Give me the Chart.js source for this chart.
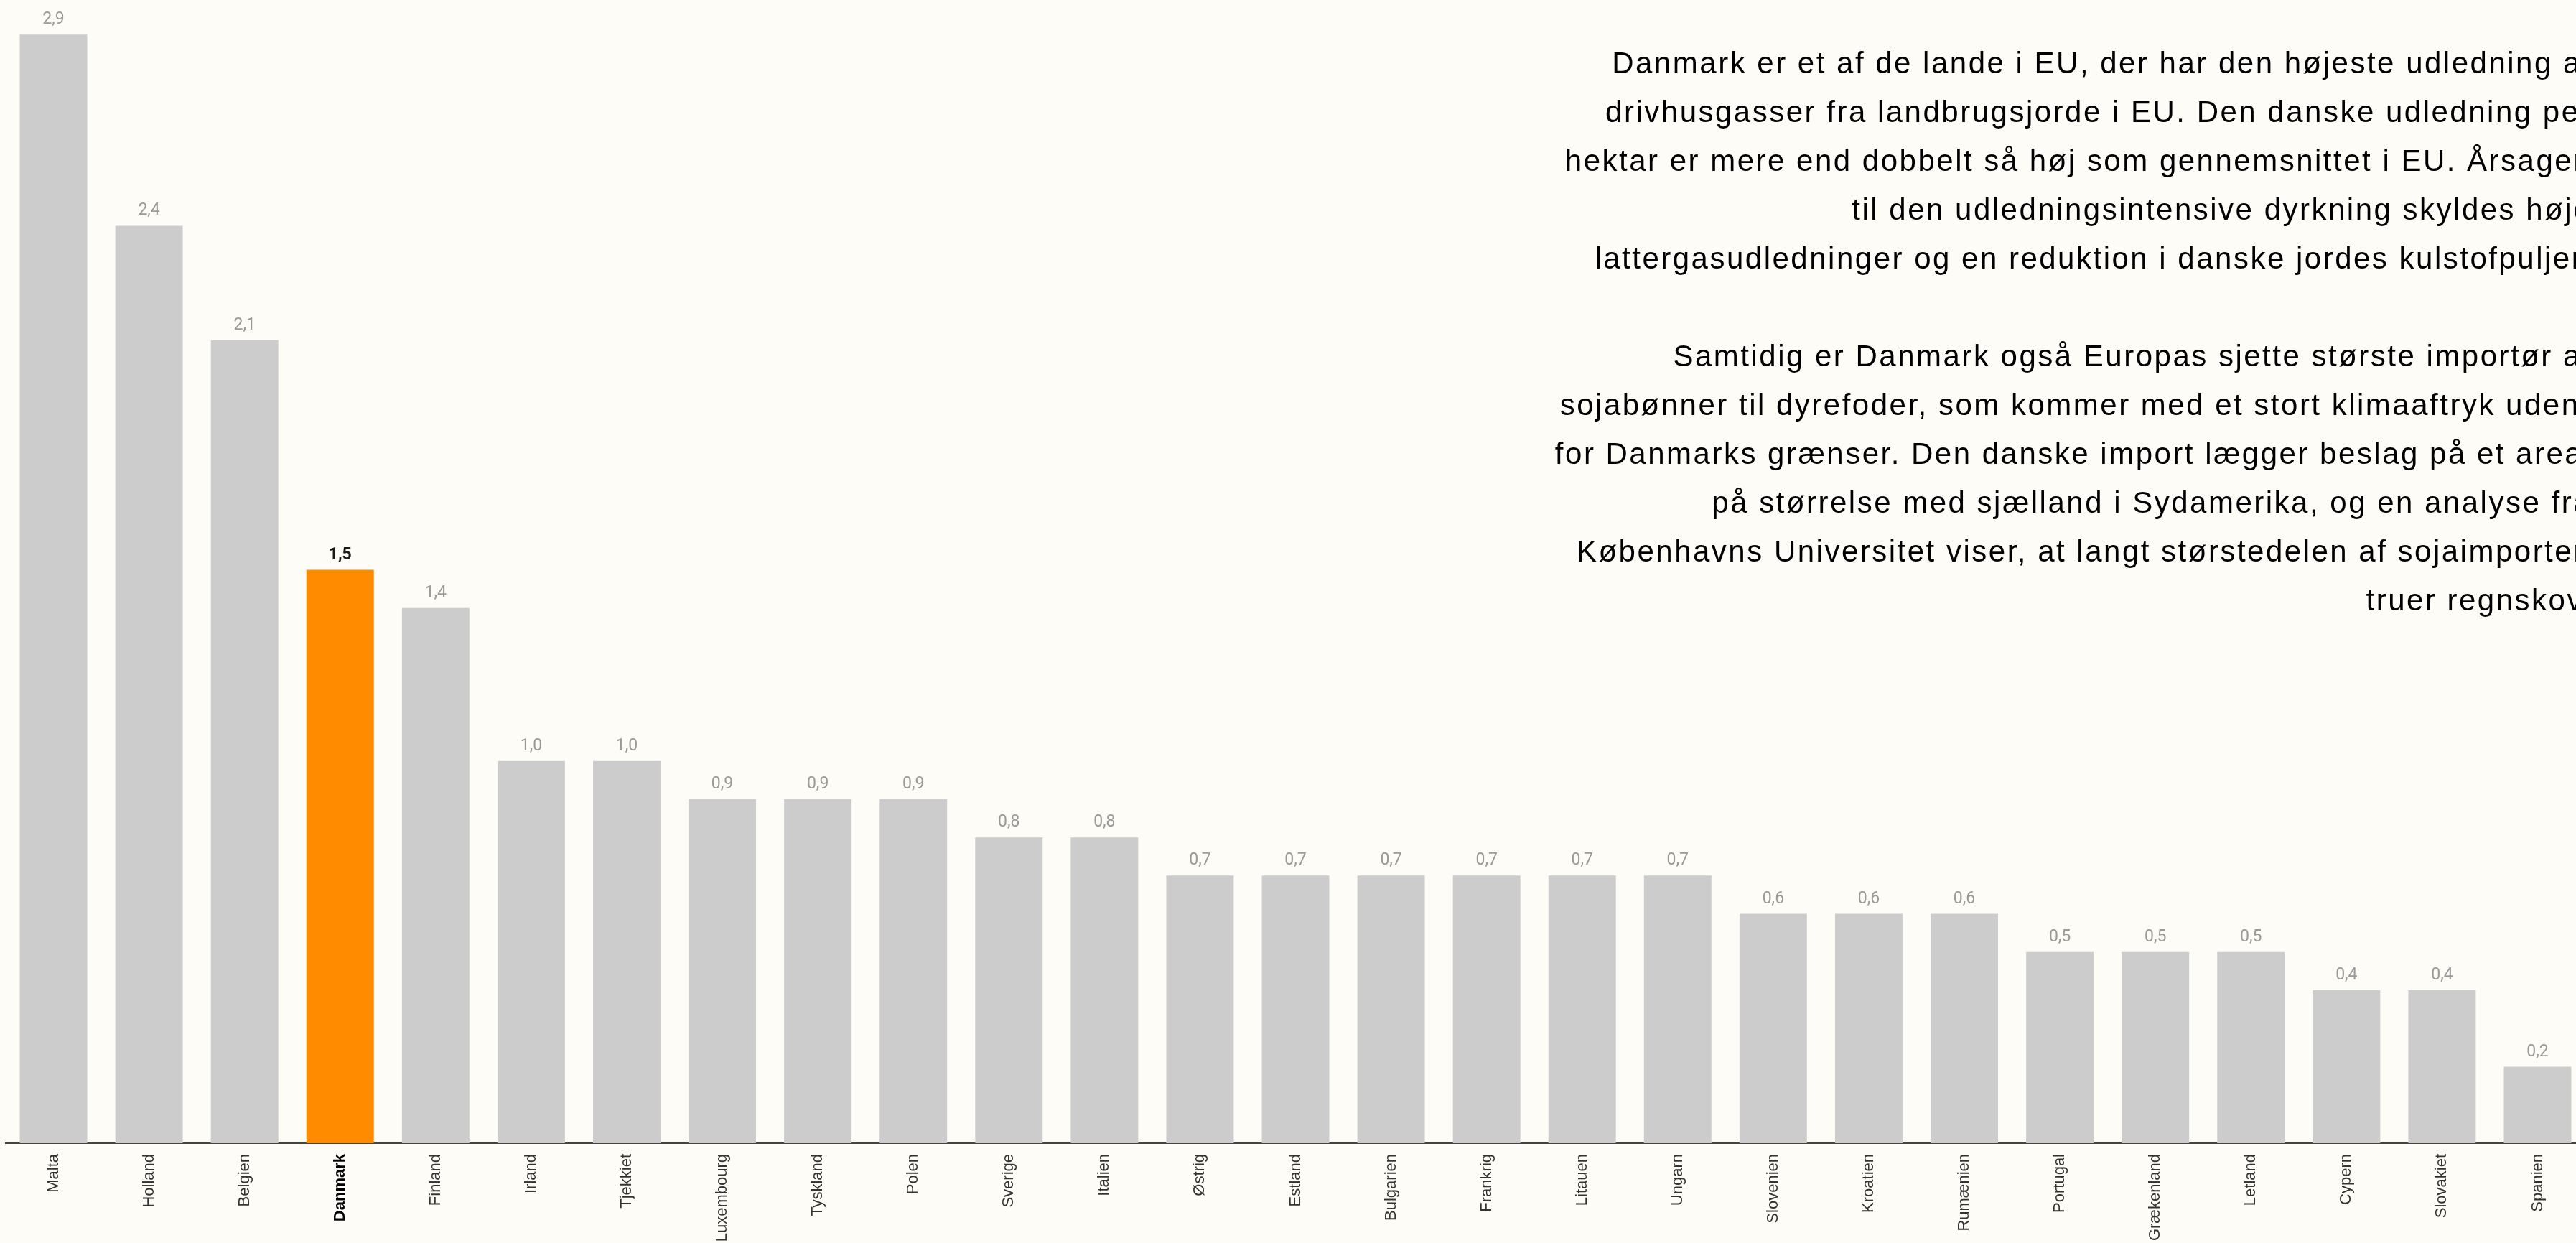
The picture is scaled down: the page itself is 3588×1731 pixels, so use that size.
<!DOCTYPE html>
<html lang="da">
<head>
<meta charset="utf-8">
<script src="https://cdn.jsdelivr.net/npm/chart.js@4.4.1/dist/chart.umd.min.js"></script>
<style>
    html, body { margin: 0; padding: 0; background: #fefcf7; overflow: hidden; width: 3588px; height: 1731px; }
    #chart-wrap { position: absolute; left: 0; top: -5px; width: 3601px; height: 1757px; }
    #intro {
        position: absolute; right: -22px; top: 54px;
        font-family: 'Liberation Sans', Arial, sans-serif; font-size: 42px; line-height: 68px;
        letter-spacing: 2.5px; color: #000; text-align: right; white-space: nowrap;
    }
</style>
</head>
<body>
<div id="chart-wrap"><canvas id="chart-soil"></canvas></div>
<div id="intro">
    Danmark er et af de lande i EU, der har den højeste udledning af<br>
    drivhusgasser fra landbrugsjorde i EU. Den danske udledning per<br>
    hektar er mere end dobbelt så høj som gennemsnittet i EU. Årsagen<br>
    til den udledningsintensive dyrkning skyldes høje<br>
    lattergasudledninger og en reduktion i danske jordes kulstofpuljer.<br>
    <br>
    Samtidig er Danmark også Europas sjette største importør af<br>
    sojabønner til dyrefoder, som kommer med et stort klimaaftryk uden-<br>
    for Danmarks grænser. Den danske import lægger beslag på et areal<br>
    på størrelse med sjælland i Sydamerika, og en analyse fra<br>
    Københavns Universitet viser, at langt størstedelen af sojaimporten<br>
    truer regnskov.
</div>
<script>
// --- Data ---
const countries = ['Malta', 'Holland', 'Belgien', 'Danmark', 'Finland', 'Irland', 'Tjekkiet', 'Luxembourg',
    'Tyskland', 'Polen', 'Sverige', 'Italien', 'Østrig', 'Estland', 'Bulgarien', 'Frankrig', 'Litauen',
    'Ungarn', 'Slovenien', 'Kroatien', 'Rumænien', 'Portugal', 'Grækenland', 'Letland', 'Cypern',
    'Slovakiet', 'Spanien']
const emissions = [2.9, 2.4, 2.1, 1.5, 1.4, 1.0, 1.0, 0.9, 0.9, 0.9, 0.8, 0.8, 0.7, 0.7, 0.7, 0.7, 0.7,
    0.7, 0.6, 0.6, 0.6, 0.5, 0.5, 0.5, 0.4, 0.4, 0.2]
const highlight = 'Danmark'

const COLORS = {
    bar: '#cccccc',
    highlight: '#ff8c00',
    axis: '#444444',
    label: '#333333',
    value: '#9a9a9a',
    valueHighlight: '#1a1a1a',
}

// draws the "2,9" style numbers above each bar
const valueLabels = {
    id: 'valueLabels',
    afterDatasetsDraw(chart) {
        const { ctx } = chart
        const meta = chart.getDatasetMeta(0)
        ctx.save()
        ctx.textAlign = 'center'
        ctx.textBaseline = 'alphabetic'
        meta.data.forEach((bar, i) => {
            const isHi = countries[i] === highlight
            ctx.font = (isHi ? 'bold ' : '') + '23px Roboto, sans-serif'
            ctx.fillStyle = isHi ? COLORS.valueHighlight : COLORS.value
            ctx.fillText(emissions[i].toFixed(1).replace('.', ','), bar.x, bar.y - 15)
        })
        ctx.restore()
    }
}

new Chart(document.getElementById('chart-soil'), {
    type: 'bar',
    data: {
        labels: countries,
        datasets: [{
            data: emissions,
            backgroundColor: countries.map(c => c === highlight ? COLORS.highlight : COLORS.bar),
            borderWidth: 0,
            categoryPercentage: 1,
            barPercentage: 0.706,
        }]
    },
    options: {
        responsive: true,
        maintainAspectRatio: false,
        animation: false,
        layout: { padding: { left: 8, right: 0, top: 0, bottom: 0 } },
        plugins: { legend: { display: false }, tooltip: { enabled: false } },
        scales: {
            y: { display: false, min: 0, max: 3 },
            x: {
                grid: { display: false, drawTicks: false },
                border: { display: true, color: COLORS.axis, width: 2 },
                ticks: {
                    autoSkip: false, maxRotation: 90, minRotation: 90, padding: 15,
                    color: ctx => countries[ctx.index] === highlight ? '#000' : COLORS.label,
                    font: ctx => ({
                        family: "'Liberation Sans', Arial, sans-serif", size: 22,
                        weight: countries[ctx.index] === highlight ? 'bold' : 'normal'
                    }),
                },
                afterFit: scale => { scale.height = 160 },
            }
        }
    },
    plugins: [valueLabels]
})
</script>
</body>
</html>
